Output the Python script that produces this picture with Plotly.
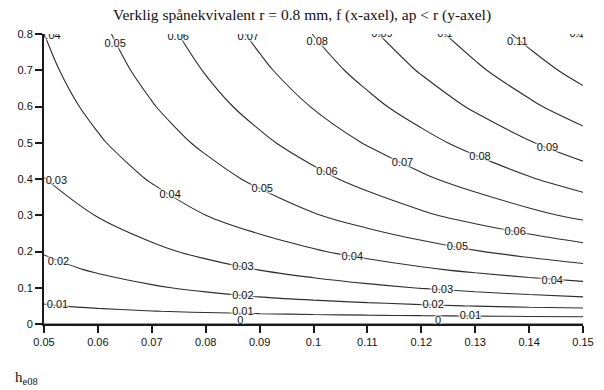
import plotly.graph_objects as go

# feed f (x-axis, mm/rev)
f_vals = [0.05, 0.06, 0.07, 0.08, 0.09, 0.10, 0.11, 0.12, 0.13, 0.14, 0.15]
# cutting depth ap (y-axis, mm)
ap_vals = [0.0, 0.01, 0.02, 0.035, 0.05, 0.075, 0.1, 0.15, 0.2, 0.3, 0.4, 0.5, 0.6, 0.7, 0.8]

# equivalent chip thickness h_e08, one row per ap value
he_ap000 = [0, 0, 0, 0, 0, 0, 0, 0, 0, 0, 0]
he_ap001 = [0.00310, 0.00346, 0.00378, 0.00405, 0.00430, 0.00452, 0.00471, 0.00489, 0.00505, 0.00520, 0.00533]
he_ap002 = [0.00511, 0.00582, 0.00646, 0.00704, 0.00757, 0.00805, 0.00850, 0.00891, 0.00929, 0.00965, 0.00997]
he_ap0035 = [0.00753, 0.00871, 0.00982, 0.01085, 0.01182, 0.01273, 0.01358, 0.01438, 0.01514, 0.01586, 0.01654]
he_ap005 = [0.00949, 0.01108, 0.01259, 0.01403, 0.01540, 0.01669, 0.01793, 0.01911, 0.02024, 0.02132, 0.02235]
he_ap0075 = [0.01206, 0.01419, 0.01623, 0.01819, 0.02008, 0.02190, 0.02366, 0.02535, 0.02699, 0.02856, 0.03009]
he_ap010 = [0.01414, 0.01669, 0.01915, 0.02153, 0.02384, 0.02608, 0.02824, 0.03034, 0.03238, 0.03436, 0.03628]
he_ap015 = [0.01762, 0.02088, 0.02406, 0.02716, 0.03019, 0.03314, 0.03603, 0.03884, 0.04160, 0.04428, 0.04691]
he_ap020 = [0.02056, 0.02443, 0.02822, 0.03194, 0.03559, 0.03918, 0.04269, 0.04615, 0.04953, 0.05286, 0.05613]
he_ap030 = [0.02542, 0.03032, 0.03518, 0.03997, 0.04472, 0.04941, 0.05405, 0.05863, 0.06317, 0.06765, 0.07209]
he_ap040 = [0.02990, 0.03500, 0.04067, 0.04631, 0.05190, 0.05745, 0.06296, 0.06843, 0.07386, 0.07925, 0.08460]
he_ap050 = [0.03256, 0.03899, 0.04538, 0.05175, 0.05809, 0.06441, 0.07069, 0.07695, 0.08318, 0.08939, 0.09557]
he_ap060 = [0.03539, 0.04243, 0.04946, 0.05647, 0.06347, 0.07046, 0.07743, 0.08439, 0.09133, 0.09827, 0.10519]
he_ap070 = [0.03783, 0.04540, 0.05297, 0.06053, 0.06810, 0.07567, 0.08323, 0.09080, 0.09837, 0.10594, 0.11350]
he_ap080 = [0.03995, 0.04798, 0.05602, 0.06407, 0.07214, 0.08022, 0.08831, 0.09641, 0.10453, 0.11266, 0.12081]

he_grid = [he_ap000, he_ap001, he_ap002, he_ap0035, he_ap005, he_ap0075, he_ap010,
           he_ap015, he_ap020, he_ap030, he_ap040, he_ap050, he_ap060, he_ap070, he_ap080]

# contour level labels as drawn in the chart
label_text = ["0.04", "0.05", "0.06", "0.07", "0.08", "0.09", "0.1", "0.11", "0.1",
              "0.03", "0.04", "0.05", "0.06", "0.07", "0.08", "0.09",
              "0.06", "0.05", "0.04", "0.04", "0.03", "0.03",
              "0.02", "0.02", "0.02", "0.01", "0.01", "0.01", "0", "0"]
label_f = [0.0511, 0.0632, 0.0749, 0.0879, 0.1007, 0.1127, 0.1244, 0.1378, 0.1489,
           0.0523, 0.0734, 0.0905, 0.1025, 0.1165, 0.1309, 0.1434,
           0.1374, 0.1267, 0.1072, 0.1443, 0.1239, 0.0869,
           0.0527, 0.0869, 0.1222, 0.0525, 0.0869, 0.1291, 0.0864, 0.1231]
label_ap = [0.7950, 0.7724, 0.7900, 0.7920, 0.7779, 0.7980, 0.7980, 0.7779, 0.7980,
            0.3945, 0.3559, 0.3724, 0.4193, 0.4441, 0.4607, 0.4855,
            0.2538, 0.2124, 0.1848, 0.1186, 0.0938, 0.1572,
            0.1710, 0.0772, 0.0524, 0.0524, 0.0312, 0.0221, 0.0083, 0.0063]

x_ticks = [0.05, 0.06, 0.07, 0.08, 0.09, 0.1, 0.11, 0.12, 0.13, 0.14, 0.15]
y_ticks = [0, 0.1, 0.2, 0.3, 0.4, 0.5, 0.6, 0.7, 0.8]

title_text = "Verklig spånekvivalent r = 0.8 mm, f (x-axel), ap < r (y-axel)"
z_label = "h<sub>e08</sub>"

sans = "Liberation Sans, Arial, sans-serif"
serif = "Liberation Serif, Times New Roman, serif"

fig = go.Figure()
fig.add_trace(go.Contour(
    x=f_vals, y=ap_vals, z=he_grid,
    contours=dict(start=0, end=0.12, size=0.01, coloring="none", showlabels=False),
    line=dict(color="#2e2e2e", width=1.1),
    showscale=False,
    hoverinfo="skip",
))
fig.add_trace(go.Scatter(
    x=label_f, y=label_ap, text=label_text, mode="text",
    textposition="middle center",
    textfont=dict(family=sans, size=11, color="#111",
                  shadow="0px 0px 2px #fff, 0px 0px 2px #fff, 0px 0px 3px #fff, 0px 0px 3px #fff, 0px 0px 4px #fff, 0px 0px 4px #fff"),
    cliponaxis=True,
    hoverinfo="skip",
))

axis_common = dict(
    showgrid=False, zeroline=False, showline=True, linecolor="#1a1a1a", linewidth=2,
    ticks="outside", ticklen=7, tickwidth=2, tickcolor="#1a1a1a",
    tickfont=dict(family=sans, size=11, color="#111"),
    mirror=False, automargin=False,
)

fig.update_layout(
    width=604, height=390,
    margin=dict(l=44, r=21, t=34, b=66, autoexpand=False),
    paper_bgcolor="white", plot_bgcolor="white",
    title=dict(text=title_text, x=0.5, xref="container", xanchor="center",
               y=1 - 15 / 390, yref="container", yanchor="middle", automargin=False,
               font=dict(family=serif, size=15.5, color="#111")),
    xaxis=dict(range=[0.05, 0.15], tickvals=x_ticks, **axis_common),
    yaxis=dict(range=[0, 0.8], tickvals=y_ticks, **axis_common),
    showlegend=False,
)

fig.add_annotation(text=z_label, xref="paper", yref="paper",
                   x=-31 / 539, y=-54 / 290, xanchor="left", yanchor="middle",
                   showarrow=False,
                   font=dict(family=serif, size=15, color="#111"))

fig.write_html("out.html", config={"displayModeBar": False},
               post_script="document.body.style.margin='0px';document.body.style.overflow='hidden';")
